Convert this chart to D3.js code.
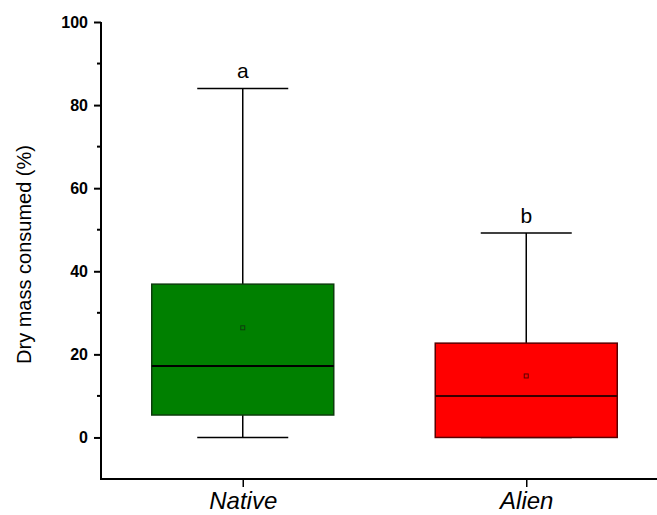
<!DOCTYPE html>
<html>
<head>
<meta charset="utf-8">
<script src="https://cdn.jsdelivr.net/npm/d3@7"></script>
<style>
  html, body { margin: 0; padding: 0; background: #fff; }
  svg { display: block; }
</style>
</head>
<body>
<svg id="chart" width="657" height="515"></svg>
<script>
// Groups and their box-plot summaries (dry mass consumed, %)
const groups = ["Native", "Alien"];
const whiskerLow = [0, 0];
const q1 = [5.4, 0];
const median = [17.2, 10.0];
const q3 = [36.9, 22.7];
const whiskerHigh = [84.0, 49.2];
const mean = [26.4, 14.8];
const letters = ["a", "b"];
const fills = ["#008000", "#ff0000"];
const strokes = ["#0d3d0d", "#5a0000"];
const yTicks = [0, 20, 40, 60, 80, 100];
const yMinorTicks = [10, 30, 50, 70, 90];

const svg = d3.select("#chart");
const plotLeft = 101, plotTop = 22, plotBottom = 479;

const y = d3.scaleLinear().domain([-10, 100]).range([plotBottom, plotTop]);
const x = d3.scalePoint().domain(groups).range([plotLeft, 668]).padding(0.5);
const step = x.step();
const boxW = step * 0.642;
const capW = boxW / 2;

const font = "Arial, 'Liberation Sans', sans-serif";

// Y axis
const yAxis = svg.append("g").attr("transform", `translate(${plotLeft},0)`)
  .call(d3.axisLeft(y).tickValues(yTicks).tickSize(7).tickPadding(6).tickSizeOuter(0));
yAxis.select(".domain").attr("stroke-width", 2).attr("d", `M0,${plotTop}V${plotBottom}`);
yAxis.selectAll(".tick line").attr("stroke-width", 2);
yAxis.selectAll(".tick text")
  .attr("font-family", font).attr("font-size", 16).attr("font-weight", "bold").attr("fill", "#000");
svg.append("g").attr("transform", `translate(${plotLeft},0)`)
  .selectAll("line").data(yMinorTicks).join("line")
  .attr("x1", -4).attr("x2", 0).attr("y1", d => y(d)).attr("y2", d => y(d))
  .attr("stroke", "#000").attr("stroke-width", 2);

// X axis
const xAxis = svg.append("g").attr("transform", `translate(0,${plotBottom})`)
  .call(d3.axisBottom(x).tickSize(8).tickPadding(8).tickSizeOuter(0));
xAxis.select(".domain").attr("stroke-width", 2).attr("d", `M${plotLeft - 1},0H657`);
xAxis.selectAll(".tick line").attr("stroke-width", 1.5);
xAxis.selectAll(".tick text")
  .attr("font-family", font).attr("font-size", 24).attr("font-style", "italic").attr("fill", "#000")
  .attr("y", 30).attr("dy", 0);

// Y axis title
svg.append("text")
  .attr("transform", `translate(31,${(plotTop + plotBottom) / 2 + 4}) rotate(-90)`)
  .attr("text-anchor", "middle")
  .attr("font-family", font).attr("font-size", 20).attr("fill", "#000")
  .text("Dry mass consumed (%)");

// Boxes
const g = svg.append("g").selectAll("g").data(groups).join("g");
g.each(function(d, i) {
  const sel = d3.select(this);
  const cx = x(d);
  // whisker stems
  sel.append("line").attr("x1", cx).attr("x2", cx)
    .attr("y1", y(q3[i])).attr("y2", y(whiskerHigh[i]))
    .attr("stroke", "#000").attr("stroke-width", 1.5);
  sel.append("line").attr("x1", cx).attr("x2", cx)
    .attr("y1", y(q1[i])).attr("y2", y(whiskerLow[i]))
    .attr("stroke", "#000").attr("stroke-width", 1.5);
  // caps
  [whiskerHigh[i], whiskerLow[i]].forEach(v => {
    sel.append("line").attr("x1", cx - capW / 2).attr("x2", cx + capW / 2)
      .attr("y1", y(v)).attr("y2", y(v))
      .attr("stroke", "#000").attr("stroke-width", 1.5);
  });
  // box
  sel.append("rect")
    .attr("x", cx - boxW / 2).attr("width", boxW)
    .attr("y", y(q3[i])).attr("height", y(q1[i]) - y(q3[i]))
    .attr("fill", fills[i]).attr("stroke", strokes[i]).attr("stroke-width", 1.5);
  // median
  sel.append("line").attr("x1", cx - boxW / 2).attr("x2", cx + boxW / 2)
    .attr("y1", y(median[i])).attr("y2", y(median[i]))
    .attr("stroke", i === 0 ? "#000" : "#3a0000").attr("stroke-width", 2);
  // mean marker
  sel.append("rect")
    .attr("x", cx - 2).attr("y", y(mean[i]) - 2).attr("width", 4).attr("height", 4)
    .attr("fill", "none").attr("stroke", strokes[i]).attr("stroke-width", 1);
  // significance letter
  sel.append("text")
    .attr("x", cx).attr("y", y(whiskerHigh[i]) - 10)
    .attr("text-anchor", "middle")
    .attr("font-family", font).attr("font-size", 21).attr("fill", "#000")
    .text(letters[i]);
});
</script>
</body>
</html>
